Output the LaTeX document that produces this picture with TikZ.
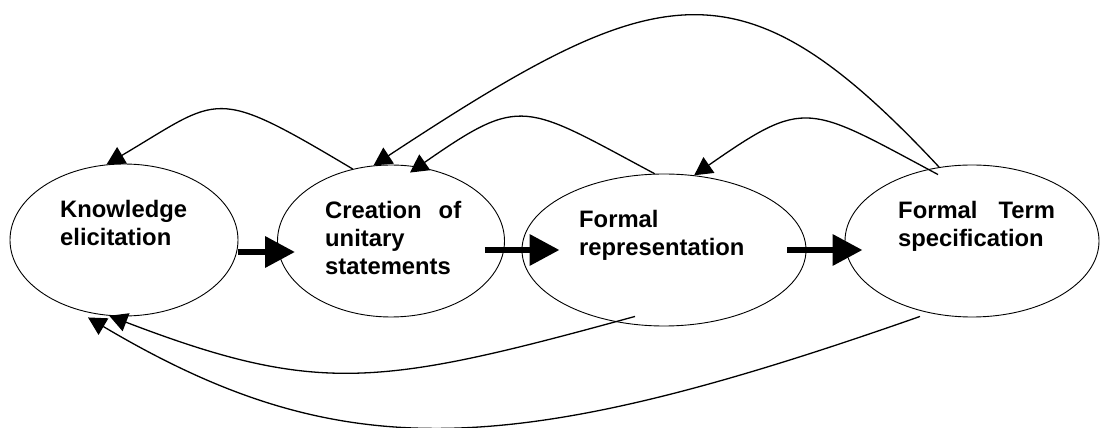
\documentclass[tikz,border=0pt]{standalone}
\usepackage{fontspec}
\setmainfont{Liberation Sans}
\usetikzlibrary{arrows.meta,calc,shapes.geometric}
\tikzset{
  stage/.style={draw,ellipse,line width=0.9pt,inner sep=0pt,minimum height=152pt},
  stage-text/.style={anchor=base west,inner sep=0pt,align=left,font=\fontsize{23.8}{28.3}\selectfont\bfseries},
  flow/.style={-{Triangle[length=30pt,width=30pt]},line width=6.5pt},
  back/.style={-{Triangle[length=18pt,width=19pt]},line width=1.3pt},
}

\begin{document}
\begin{tikzpicture}[x=1pt,y=1pt]
  \useasboundingbox (0,0) rectangle (1100,428);

  % STAGES
  \node[stage,minimum width=228pt] (elic)  at (124,188) {};
  \node[stage,minimum width=227pt] (unit)  at (391,187) {};
  \node[stage,minimum width=284pt] (frep)  at (664,178) {};
  \node[stage,minimum width=254pt] (fterm) at (972,187) {};

  % base = last line
  \node[stage-text] (elic-t)  at (60,182)  {Knowledge\\elicitation};
  \node[stage-text] (unit-t)  at (325,153) {Creation\hspace{17pt}of\\unitary\\statements};
  \node[stage-text] (frep-t)  at (579,172) {Formal\\representation};
  \node[stage-text] (fterm-t) at (898,181) {Formal\hspace{21pt}Term\\specification};

  % FORWARD FLOW
  \draw[flow] ($(elic.east)+(0,-12)$)   -- ($(unit.west)+(18,-11)$);
  \draw[flow] ($(unit.east)+(-20,-9)$)  -- ($(frep.west)+(38,0)$);
  \draw[flow] ($(frep.east)+(-19,0)$)   -- ($(fterm.west)+(18,-9)$);

  % FEEDBACK OVER THE TOP
  \draw[back] (unit.118) .. controls +(-141,84) and +(115,68) .. (elic.103);
  \draw[back] (frep.97) .. controls +(-131,70) and +(112,78) .. ($(unit.north)+(19,-8)$);
  \draw[back] ($(fterm.north)+(-34,-10)$) .. controls +(-131,70) and +(112,78) .. (frep.68);
  \draw[back] (fterm.114) .. controls +(-199,213) and +(286,188) .. (unit.103);

  % FEEDBACK UNDERNEATH
  \draw[back] ($(frep.south)+(-29,10)$) .. controls +(-255,-70) and +(209,-80) .. (elic.259);
  \draw[back] ($(fterm.south)+(-52,1)$) .. controls +(-410,-144) and +(253,-150) .. ($(elic.south)+(-36,-1)$);

\end{tikzpicture}
\end{document}
